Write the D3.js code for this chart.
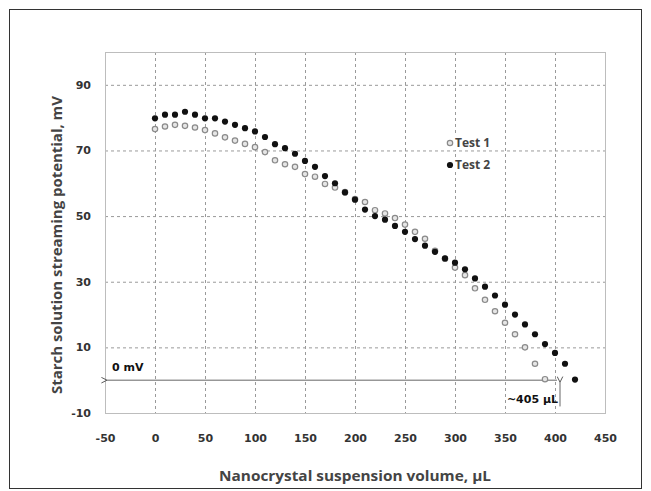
<!DOCTYPE html>
<html>
<head>
<meta charset="utf-8">
<script src="https://cdn.jsdelivr.net/npm/d3@7/dist/d3.min.js"></script>
<style>
  body { margin: 0; background: #fff; }
</style>
</head>
<body>
<div class="chart"></div>
<script>
// DATA

var test1Volumes = [0, 10, 20, 30, 40, 50, 60, 70, 80, 90, 100, 110, 120, 130, 140, 150, 160, 170, 180, 190,
  200, 210, 220, 230, 240, 250, 260, 270, 280, 290, 300, 310, 320, 330, 340, 350, 360, 370, 380, 390];
var test1Values = [76.5, 77.3, 77.8, 77.5, 77.0, 76.2, 75.2, 74.0, 73.0, 72.0, 71.0, 69.5, 67.0, 65.8, 65.0, 62.8, 62.0, 59.8, 58.7, 57.3,
  55.2, 54.3, 51.8, 50.8, 49.4, 47.4, 45.2, 43.1, 39.4, 37.0, 34.3, 32.0, 28.0, 24.5, 21.0, 17.5, 14.0, 10.0, 5.0, 0.3];

var test2Volumes = [0, 10, 20, 30, 40, 50, 60, 70, 80, 90, 100, 110, 120, 130, 140, 150, 160, 170, 180, 190,
  200, 210, 220, 230, 240, 250, 260, 270, 280, 290, 300, 310, 320, 330, 340, 350, 360, 370, 380, 390, 400, 410, 420];
var test2Values = [79.8, 80.9, 80.9, 81.8, 80.9, 79.8, 79.8, 78.8, 77.8, 76.8, 75.8, 74.1, 71.9, 70.7, 69.0, 66.8, 65.0, 62.2, 60.0, 57.2,
  55.0, 52.0, 50.0, 48.9, 47.0, 45.2, 43.0, 41.0, 39.1, 37.1, 35.8, 33.8, 31.0, 28.5, 25.8, 23.0, 20.0, 17.0, 14.0, 11.0, 8.3, 5.0, 0.2];

var seriesNames = ['Test 1', 'Test 2'];
var xTicks = [-50, 0, 50, 100, 150, 200, 250, 300, 350, 400, 450];
var yTicks = [-10, 10, 30, 50, 70, 90];

var zeroLabel = '0 mV';
var crossingVolume = 405;
var crossingLabel = '~405 \u00b5L';

// HELPER FUNCTIONS

var zipSeries = function(volumes, values){
  return volumes.map(function(v, i){ return { x: v, y: values[i] }; });
}

// plain hyphen for negatives, like the source
var plainFormat = function(d){ return String(d); }

// SETUP

var W = 651, H = 491;

var svg = d3.select('.chart')
  .append('svg')
  .attr('width', W)
  .attr('height', H)
  .style('font-family', 'DejaVu Sans, sans-serif');

var x = d3.scaleLinear().domain([-50, 450]).range([105, 605]);
var y = d3.scaleLinear().domain([-10, 100]).range([413, 52]);

// outer frame
svg.append('rect')
  .attr('x', 9.5).attr('y', 9.5)
  .attr('width', 632).attr('height', 479)
  .attr('fill', 'none')
  .attr('stroke', '#333')
  .attr('stroke-width', 1);

// GRID

svg.selectAll('.vgrid')
  .data(xTicks.slice(1, -1))
  .enter()
  .append('line')
  .attr('class', 'vgrid')
  .attr('x1', function(d){ return x(d) + 0.5; })
  .attr('x2', function(d){ return x(d) + 0.5; })
  .attr('y1', y(100))
  .attr('y2', y(-10))
  .attr('stroke', '#9a9a9a')
  .attr('stroke-dasharray', '3,3');

svg.selectAll('.hgrid')
  .data(yTicks.slice(1))
  .enter()
  .append('line')
  .attr('class', 'hgrid')
  .attr('x1', x(-50))
  .attr('x2', x(450))
  .attr('y1', function(d){ return y(d) + 0.5; })
  .attr('y2', function(d){ return y(d) + 0.5; })
  .attr('stroke', '#9a9a9a')
  .attr('stroke-dasharray', '3,3');

// plot area border
svg.append('rect')
  .attr('x', x(-50) + 0.5).attr('y', y(100) + 0.5)
  .attr('width', x(450) - x(-50)).attr('height', y(-10) - y(100))
  .attr('fill', 'none')
  .attr('stroke', '#bdbdbd');

// AXES (labels only, like the source)

var xAxis = d3.axisBottom(x).tickValues(xTicks).tickFormat(plainFormat).tickSize(0).tickPadding(0);
var yAxis = d3.axisLeft(y).tickValues(yTicks).tickFormat(plainFormat).tickSize(0).tickPadding(0);

var gx = svg.append('g')
  .attr('transform', 'translate(0,' + 434 + ')')
  .call(xAxis);
var gy = svg.append('g')
  .attr('transform', 'translate(' + 91 + ',0)')
  .call(yAxis);

[gx, gy].forEach(function(g){
  g.select('.domain').remove();
  g.selectAll('text')
    .style('font-family', 'DejaVu Sans, sans-serif')
    .style('font-size', '11px')
    .style('font-weight', 'bold')
    .attr('fill', '#333');
});

// axis titles
svg.append('text')
  .attr('x', (x(-50) + x(450)) / 2)
  .attr('y', 481)
  .attr('text-anchor', 'middle')
  .attr('textLength', 272)
  .attr('lengthAdjust', 'spacingAndGlyphs')
  .style('font-family', 'Open Sans, sans-serif')
  .style('font-size', '15px')
  .style('font-weight', 'bold')
  .attr('fill', '#444')
  .text('Nanocrystal suspension volume, \u00b5L');

svg.append('text')
  .attr('transform', 'translate(62,' + 245 + ') rotate(-90)')
  .attr('text-anchor', 'middle')
  .attr('textLength', 298)
  .attr('lengthAdjust', 'spacingAndGlyphs')
  .style('font-family', 'Open Sans, sans-serif')
  .style('font-size', '14px')
  .style('font-weight', 'bold')
  .attr('fill', '#444')
  .text('Starch solution streaming potential, mV');

// ANNOTATIONS

var defs = svg.append('defs');
defs.append('marker')
  .attr('id', 'arrow')
  .attr('viewBox', '0 0 10 10')
  .attr('refX', 1).attr('refY', 5)
  .attr('markerWidth', 7).attr('markerHeight', 7)
  .attr('orient', 'auto-start-reverse')
  .append('path')
  .attr('d', 'M9,1 L1,5 L9,9')
  .attr('fill', 'none')
  .attr('stroke', '#555')
  .attr('stroke-width', 1.4);

svg.append('line')
  .attr('x1', x(-50) + 2).attr('x2', x(crossingVolume - 3))
  .attr('y1', y(0)).attr('y2', y(0))
  .attr('stroke', '#666')
  .attr('stroke-width', 1)
  .attr('marker-start', 'url(#arrow)');

svg.append('line')
  .attr('x1', x(crossingVolume)).attr('x2', x(crossingVolume))
  .attr('y1', y(-8)).attr('y2', y(0) + 2)
  .attr('stroke', '#666')
  .attr('stroke-width', 1)
  .attr('marker-end', 'url(#arrow)');

svg.append('text')
  .attr('x', x(-50) + 7)
  .attr('y', y(0) - 9)
  .style('font-size', '11px')
  .style('font-weight', 'bold')
  .attr('fill', '#111')
  .text(zeroLabel);

svg.append('text')
  .attr('x', x(crossingVolume) - 2)
  .attr('y', y(-7))
  .attr('text-anchor', 'end')
  .style('font-size', '11px')
  .style('font-weight', 'bold')
  .attr('fill', '#111')
  .text(crossingLabel);

// POINTS

svg.selectAll('.t1')
  .data(zipSeries(test1Volumes, test1Values))
  .enter()
  .append('circle')
  .attr('class', 't1')
  .attr('cx', function(d){ return x(d.x); })
  .attr('cy', function(d){ return y(d.y); })
  .attr('r', 2.7)
  .attr('fill', '#e6e6e6')
  .attr('stroke', '#8a8a8a')
  .attr('stroke-width', 1.2);

svg.selectAll('.t2')
  .data(zipSeries(test2Volumes, test2Values))
  .enter()
  .append('circle')
  .attr('class', 't2')
  .attr('cx', function(d){ return x(d.x); })
  .attr('cy', function(d){ return y(d.y); })
  .attr('r', 3.1)
  .attr('fill', '#111');

// LEGEND

var legend = svg.selectAll('.legend')
  .data(seriesNames)
  .enter()
  .append('g')
  .attr('class', 'legend')
  .attr('transform', function(d, i){ return 'translate(450,' + (143 + i * 22) + ')'; });

legend.append('rect')
  .attr('x', -5).attr('y', -8)
  .attr('width', 46).attr('height', 15)
  .attr('fill', '#fff');

legend.append('circle')
  .attr('r', function(d, i){ return i === 0 ? 2.7 : 3.1; })
  .attr('fill', function(d, i){ return i === 0 ? '#e6e6e6' : '#111'; })
  .attr('stroke', function(d, i){ return i === 0 ? '#8a8a8a' : 'none'; })
  .attr('stroke-width', 1.2);

legend.append('text')
  .attr('x', 5)
  .attr('y', 4)
  .style('font-family', 'Open Sans, sans-serif')
  .style('font-size', '12px')
  .style('font-weight', 'bold')
  .attr('fill', '#444')
  .text(function(d){ return d; });
</script>
</body>
</html>
